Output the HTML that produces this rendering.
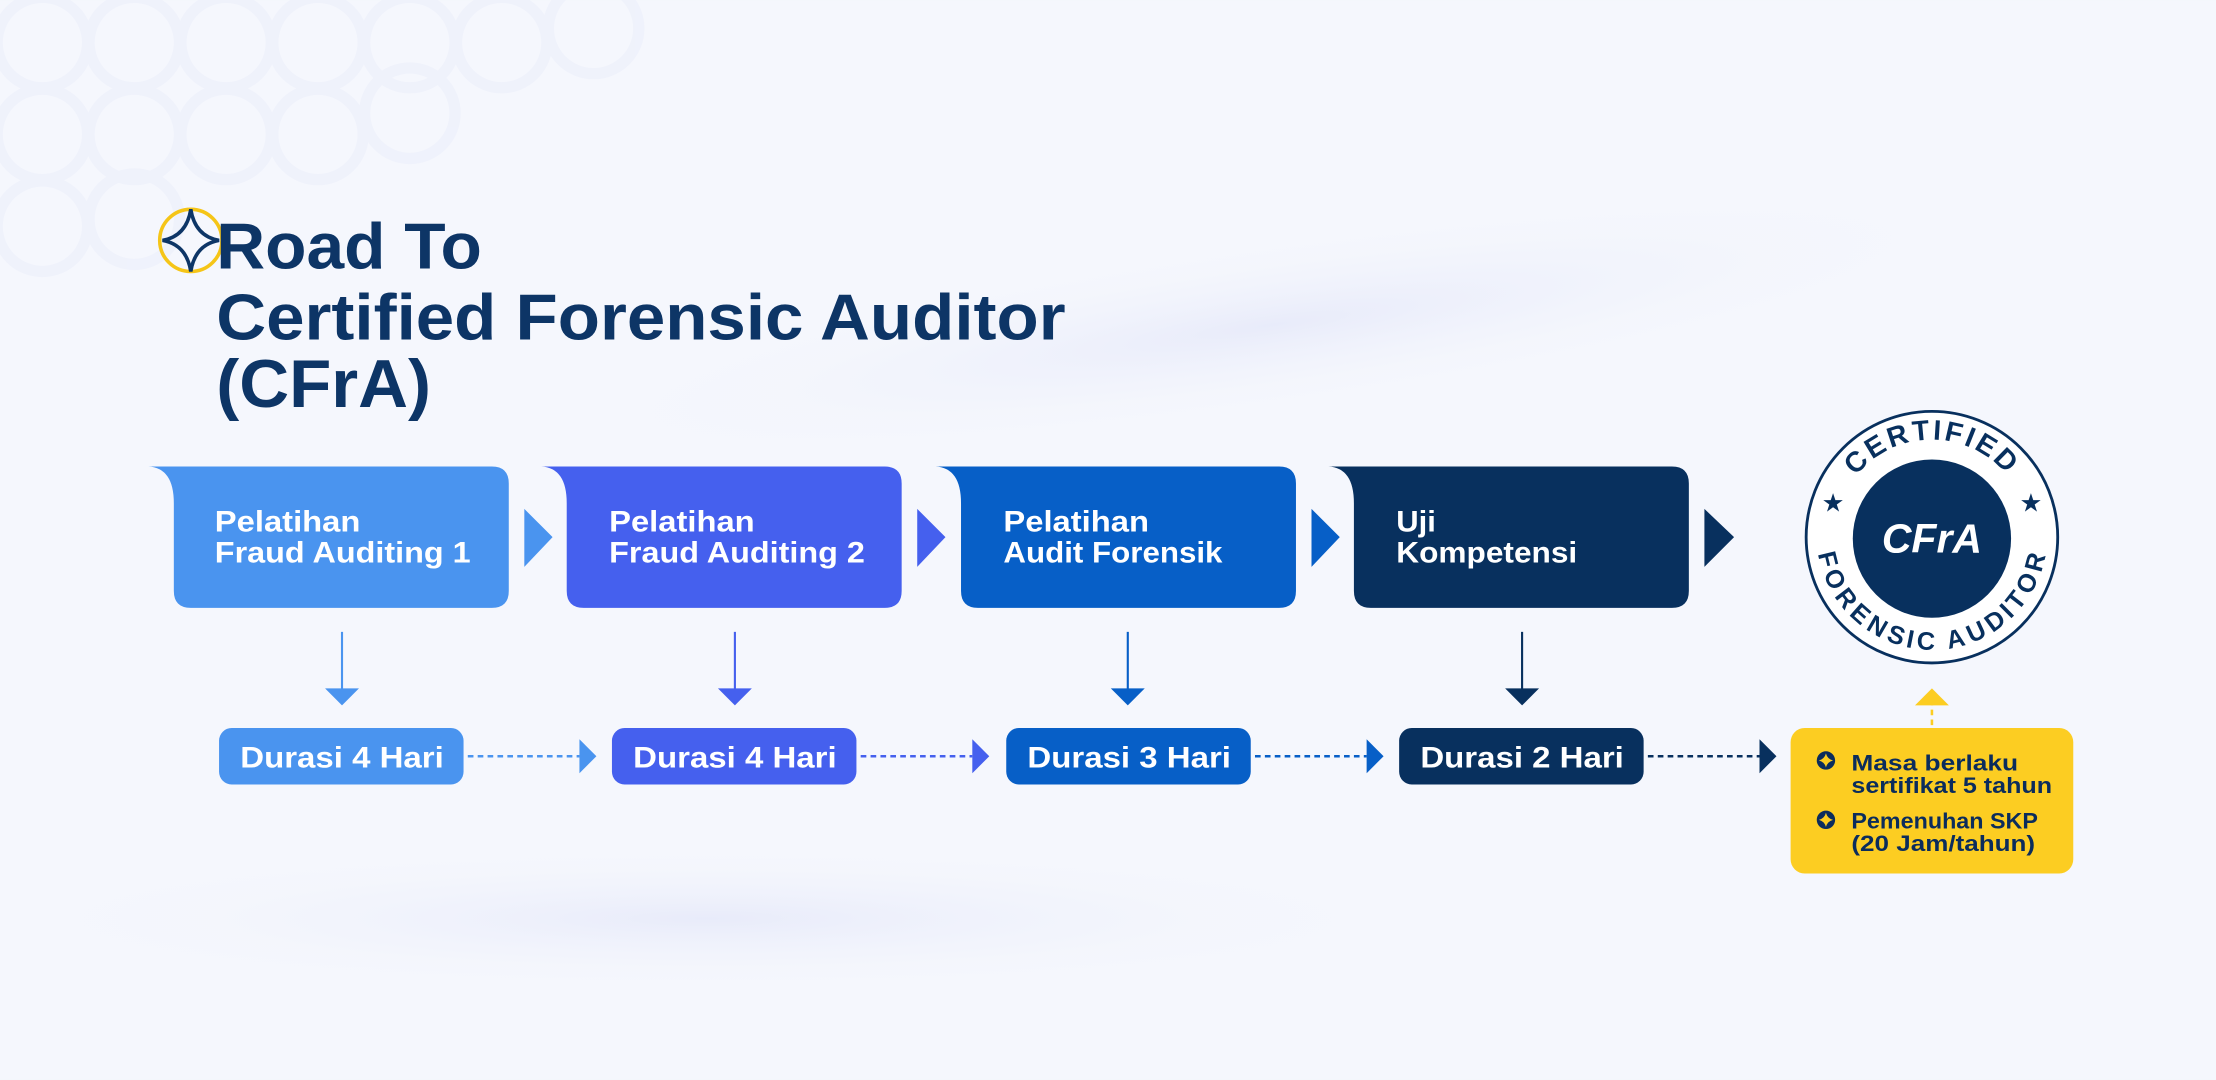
<!DOCTYPE html>
<html><head><meta charset="utf-8"><style>
html,body{margin:0;padding:0;background:#f4f6fc;}
svg{display:block}
text{font-family:"Liberation Sans",sans-serif;}
</style></head><body>
<svg width="2216" height="1080" viewBox="0 0 1568 764" xmlns="http://www.w3.org/2000/svg">
<defs>
<radialGradient id="bg1" cx="0.5" cy="0.5" r="0.5"><stop offset="0" stop-color="#e8ebfa"/><stop offset="1" stop-color="#f4f6fc" stop-opacity="0"/></radialGradient>
<path id="arcTop" d="M1298,380 A69,69 0 0 1 1436,380"/>
<path id="arcBot" d="M1298,378 A69,69 0 0 0 1436,378"/>
</defs>
<rect width="1568" height="764" fill="#f5f7fd"/>
<ellipse cx="900" cy="230" rx="500" ry="60" fill="url(#bg1)" transform="rotate(-8 900 230)"/>
<ellipse cx="500" cy="650" rx="500" ry="50" fill="url(#bg1)"/>
<g fill="none" stroke="#edf0fb" stroke-width="8" opacity="0.7">
<circle cx="30" cy="30" r="32"/><circle cx="95" cy="30" r="32"/><circle cx="160" cy="30" r="32"/><circle cx="225" cy="30" r="32"/><circle cx="290" cy="30" r="32"/><circle cx="355" cy="30" r="32"/><circle cx="420" cy="20" r="32"/>
<circle cx="30" cy="95" r="32"/><circle cx="95" cy="95" r="32"/><circle cx="160" cy="95" r="32"/><circle cx="225" cy="95" r="32"/><circle cx="290" cy="80" r="32"/>
<circle cx="30" cy="160" r="32"/><circle cx="95" cy="155" r="32"/>
</g>
<circle cx="135" cy="170" r="22" fill="none" stroke="#f5c518" stroke-width="2.5"/>
<path d="M135,148 Q138,167 155,170 Q138,173 135,192 Q132,173 115,170 Q132,167 135,148 Z" fill="none" stroke="#0d3566" stroke-width="2.5"/>
<g fill="#0d3566" font-weight="bold">
<text x="153" y="190" font-size="46" textLength="188" lengthAdjust="spacingAndGlyphs">Road To</text>
<text x="153" y="240" font-size="46" textLength="601" lengthAdjust="spacingAndGlyphs">Certified Forensic Auditor</text>
<text x="153" y="288" font-size="48" textLength="152" lengthAdjust="spacingAndGlyphs">(CFrA)</text>
</g>
<path d="M105,330 L348,330 Q360,330 360,342 L360,418 Q360,430 348,430 L135,430 Q123,430 123,418 L123,356 Q123,331 105,330 Z" fill="#4a94ef"/>
<path d="M383,330 L626,330 Q638,330 638,342 L638,418 Q638,430 626,430 L413,430 Q401,430 401,418 L401,356 Q401,331 383,330 Z" fill="#4560ee"/>
<path d="M662,330 L905,330 Q917,330 917,342 L917,418 Q917,430 905,430 L692,430 Q680,430 680,418 L680,356 Q680,331 662,330 Z" fill="#075fc7"/>
<path d="M940,330 L1183,330 Q1195,330 1195,342 L1195,418 Q1195,430 1183,430 L970,430 Q958,430 958,418 L958,356 Q958,331 940,330 Z" fill="#08305e"/>
<polygon points="371,360 391,380 371,401" fill="#4a94ef"/>
<polygon points="649,360 669,380 649,401" fill="#4560ee"/>
<polygon points="928,360 948,380 928,401" fill="#075fc7"/>
<polygon points="1206,360 1227,380 1206,401" fill="#08305e"/>
<g fill="#fff" font-size="21" font-weight="bold">
<text x="152" y="376" textLength="103" lengthAdjust="spacingAndGlyphs">Pelatihan</text><text x="152" y="398" textLength="181" lengthAdjust="spacingAndGlyphs">Fraud Auditing 1</text>
<text x="431" y="376" textLength="103" lengthAdjust="spacingAndGlyphs">Pelatihan</text><text x="431" y="398" textLength="181" lengthAdjust="spacingAndGlyphs">Fraud Auditing 2</text>
<text x="710" y="376" textLength="103" lengthAdjust="spacingAndGlyphs">Pelatihan</text><text x="710" y="398" textLength="155" lengthAdjust="spacingAndGlyphs">Audit Forensik</text>
<text x="988" y="376" textLength="28" lengthAdjust="spacingAndGlyphs">Uji</text><text x="988" y="398" textLength="128" lengthAdjust="spacingAndGlyphs">Kompetensi</text>
</g>
<g stroke-width="1.5">
<line x1="242" y1="447" x2="242" y2="488" stroke="#4a94ef"/><polygon points="230,487 254,487 242,499" fill="#4a94ef"/>
<line x1="520" y1="447" x2="520" y2="488" stroke="#4560ee"/><polygon points="508,487 532,487 520,499" fill="#4560ee"/>
<line x1="798" y1="447" x2="798" y2="488" stroke="#075fc7"/><polygon points="786,487 810,487 798,499" fill="#075fc7"/>
<line x1="1077" y1="447" x2="1077" y2="488" stroke="#08305e"/><polygon points="1065,487 1089,487 1077,499" fill="#08305e"/>
</g>
<rect x="155" y="515" width="173" height="40" rx="9" fill="#4a94ef"/>
<rect x="433" y="515" width="173" height="40" rx="9" fill="#4560ee"/>
<rect x="712" y="515" width="173" height="40" rx="9" fill="#075fc7"/>
<rect x="990" y="515" width="173" height="40" rx="9" fill="#08305e"/>
<g fill="#fff" font-size="21" font-weight="bold">
<text x="170" y="543" textLength="144" lengthAdjust="spacingAndGlyphs">Durasi 4 Hari</text><text x="448" y="543" textLength="144" lengthAdjust="spacingAndGlyphs">Durasi 4 Hari</text>
<text x="727" y="543" textLength="144" lengthAdjust="spacingAndGlyphs">Durasi 3 Hari</text><text x="1005" y="543" textLength="144" lengthAdjust="spacingAndGlyphs">Durasi 2 Hari</text>
</g>
<g stroke-width="1.8" stroke-dasharray="4,3">
<line x1="331" y1="535" x2="410" y2="535" stroke="#4a94ef"/>
<line x1="609" y1="535" x2="688" y2="535" stroke="#4560ee"/>
<line x1="888" y1="535" x2="967" y2="535" stroke="#075fc7"/>
<line x1="1166" y1="535" x2="1245" y2="535" stroke="#08305e"/>
</g>
<polygon points="410,523 422,535 410,547" fill="#4a94ef"/>
<polygon points="688,523 700,535 688,547" fill="#4560ee"/>
<polygon points="967,523 979,535 967,547" fill="#075fc7"/>
<polygon points="1245,523 1257,535 1245,547" fill="#08305e"/>
<rect x="1267" y="515" width="200" height="103" rx="10" fill="#fccd22"/>
<line x1="1367" y1="513" x2="1367" y2="497" stroke="#fccd22" stroke-width="1.8" stroke-dasharray="4,3"/>
<polygon points="1355,499 1379,499 1367,487" fill="#fccd22"/>
<g fill="#0b2c5c">
<circle cx="1292" cy="538" r="6.5"/><circle cx="1292" cy="580" r="6.5"/>
</g>
<g fill="#fccd22">
<path d="M1292,533 Q1293,537 1297,538 Q1293,539 1292,543 Q1291,539 1287,538 Q1291,537 1292,533Z"/>
<path d="M1292,575 Q1293,579 1297,580 Q1293,581 1292,585 Q1291,581 1287,580 Q1291,579 1292,575Z"/>
</g>
<g fill="#0b2c5c" font-size="16" font-weight="bold">
<text x="1310" y="545" textLength="118" lengthAdjust="spacingAndGlyphs">Masa berlaku</text><text x="1310" y="561" textLength="142" lengthAdjust="spacingAndGlyphs">sertifikat 5 tahun</text>
<text x="1310" y="586" textLength="132" lengthAdjust="spacingAndGlyphs">Pemenuhan SKP</text><text x="1310" y="602" textLength="130" lengthAdjust="spacingAndGlyphs">(20 Jam/tahun)</text>
</g>
<circle cx="1367" cy="380" r="89" fill="#fff" stroke="#08305e" stroke-width="2"/>
<circle cx="1367" cy="381" r="56" fill="#08305e"/>
<text x="1367" y="391" font-size="29" font-weight="bold" font-style="italic" fill="#fff" text-anchor="middle">CFrA</text>
<g fill="#08305e" font-weight="bold">
<text text-anchor="middle" font-size="20" letter-spacing="2"><textPath href="#arcTop" startOffset="50%">CERTIFIED</textPath></text>
<text text-anchor="middle" font-size="18" letter-spacing="1" dominant-baseline="hanging"><textPath href="#arcBot" startOffset="50%">FORENSIC AUDITOR</textPath></text>
</g>
<text x="1297" y="362" font-size="18" fill="#08305e" text-anchor="middle">★</text>
<text x="1437" y="362" font-size="18" fill="#08305e" text-anchor="middle">★</text>
</svg>
</body></html>
